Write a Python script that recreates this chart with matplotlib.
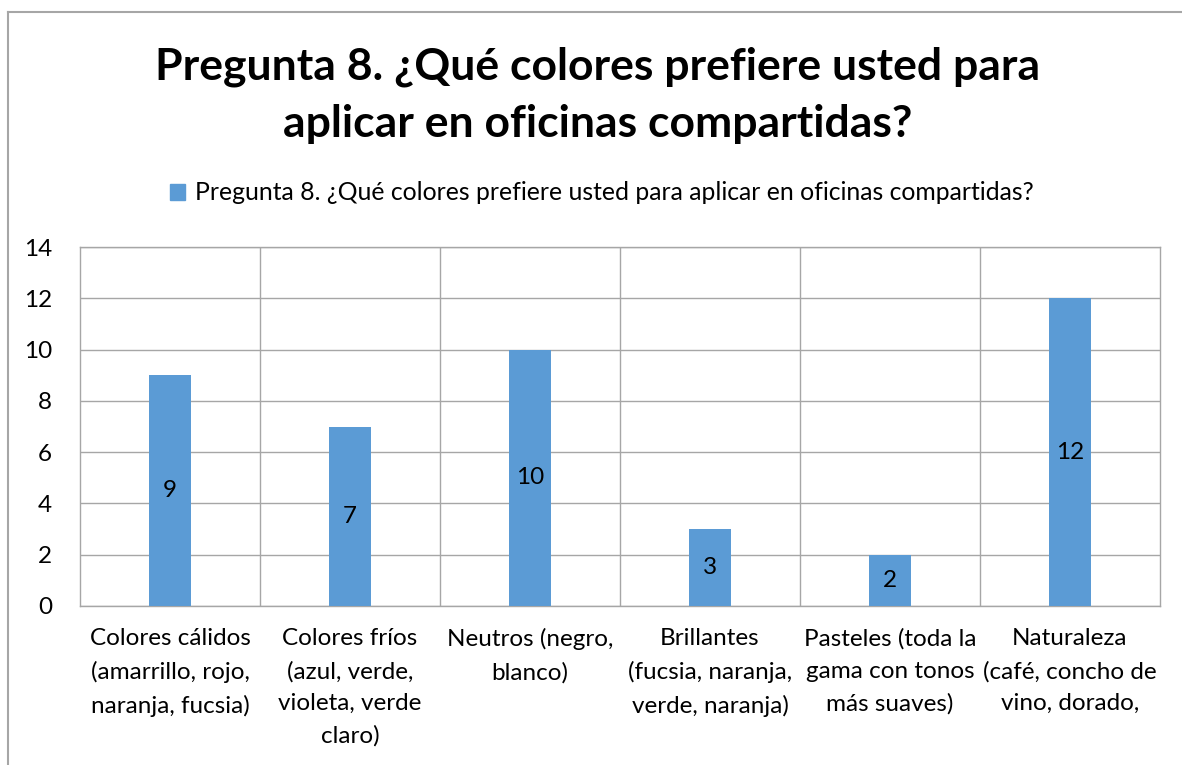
import matplotlib
matplotlib.use("Agg")
import matplotlib.pyplot as plt
from matplotlib.lines import Line2D
from matplotlib.patches import Patch

plt.rcParams['font.family'] = ['Lato', 'DejaVu Sans']

categorias = ["Colores cálidos\n(amarrillo, rojo,\nnaranja, fucsia)",
              "Colores fríos\n(azul, verde,\nvioleta, verde\nclaro)",
              "Neutros (negro,\nblanco)",
              "Brillantes\n(fucsia, naranja,\nverde, naranja)",
              "Pasteles (toda la\ngama con tonos\nmás suaves)",
              "Naturaleza\n(café, concho de\nvino, dorado,"]
valores = [9, 7, 10, 3, 2, 12]
serie = "Pregunta 8. ¿Qué colores prefiere usted para aplicar en oficinas compartidas?"
titulo = "Pregunta 8. ¿Qué colores prefiere usted para\naplicar en oficinas compartidas?"

azul = "#5B9BD5"
gris = "#A6A6A6"

fig = plt.figure(figsize=(11.82, 7.65), dpi=100)
ax = fig.add_axes([80/1182, 1-606/765, 1080/1182, 359/765])

x = range(len(valores))
barras = ax.bar(x, valores, width=0.233, color=azul, zorder=3)
ax.bar_label(barras, labels=[str(v) for v in valores], label_type='center', fontsize=17.5, color='black')

ax.set_xlim(-0.5, len(valores) - 0.5)
ax.set_ylim(0, 14)
ax.set_yticks(range(0, 15, 2))
ax.set_xticks(list(x))
ax.set_xticklabels(categorias, fontsize=17.5, linespacing=1.65, va='top')
ax.tick_params(axis='y', labelsize=17.5, length=0, pad=20)
ax.tick_params(axis='x', length=0, pad=16)

ax.yaxis.grid(True, color=gris, linewidth=1, zorder=0)
for b in [i + 0.5 for i in range(len(valores) - 1)]:
    ax.axvline(b, color=gris, linewidth=1, zorder=0)
for s in ax.spines.values():
    s.set_color(gris)
    s.set_linewidth(1)

fig.text(598/1182, 1-95/765, titulo, ha='center', va='center', fontsize=32,
         fontweight='bold', linespacing=1.53)

fig.legend(handles=[Patch(color=azul, label=serie)], loc='center',
           bbox_to_anchor=(602/1182, 1-193/765), frameon=False, fontsize=17.8,
           handlelength=0.6, handleheight=0.6, handletextpad=0.4)

# marco exterior
fig.add_artist(Line2D([8/1182, 8/1182], [0, 1-12/765], color=gris, linewidth=1.5))
fig.add_artist(Line2D([8/1182, 1], [1-12/765, 1-12/765], color=gris, linewidth=1.5))

fig.savefig("out.png", dpi=100)
